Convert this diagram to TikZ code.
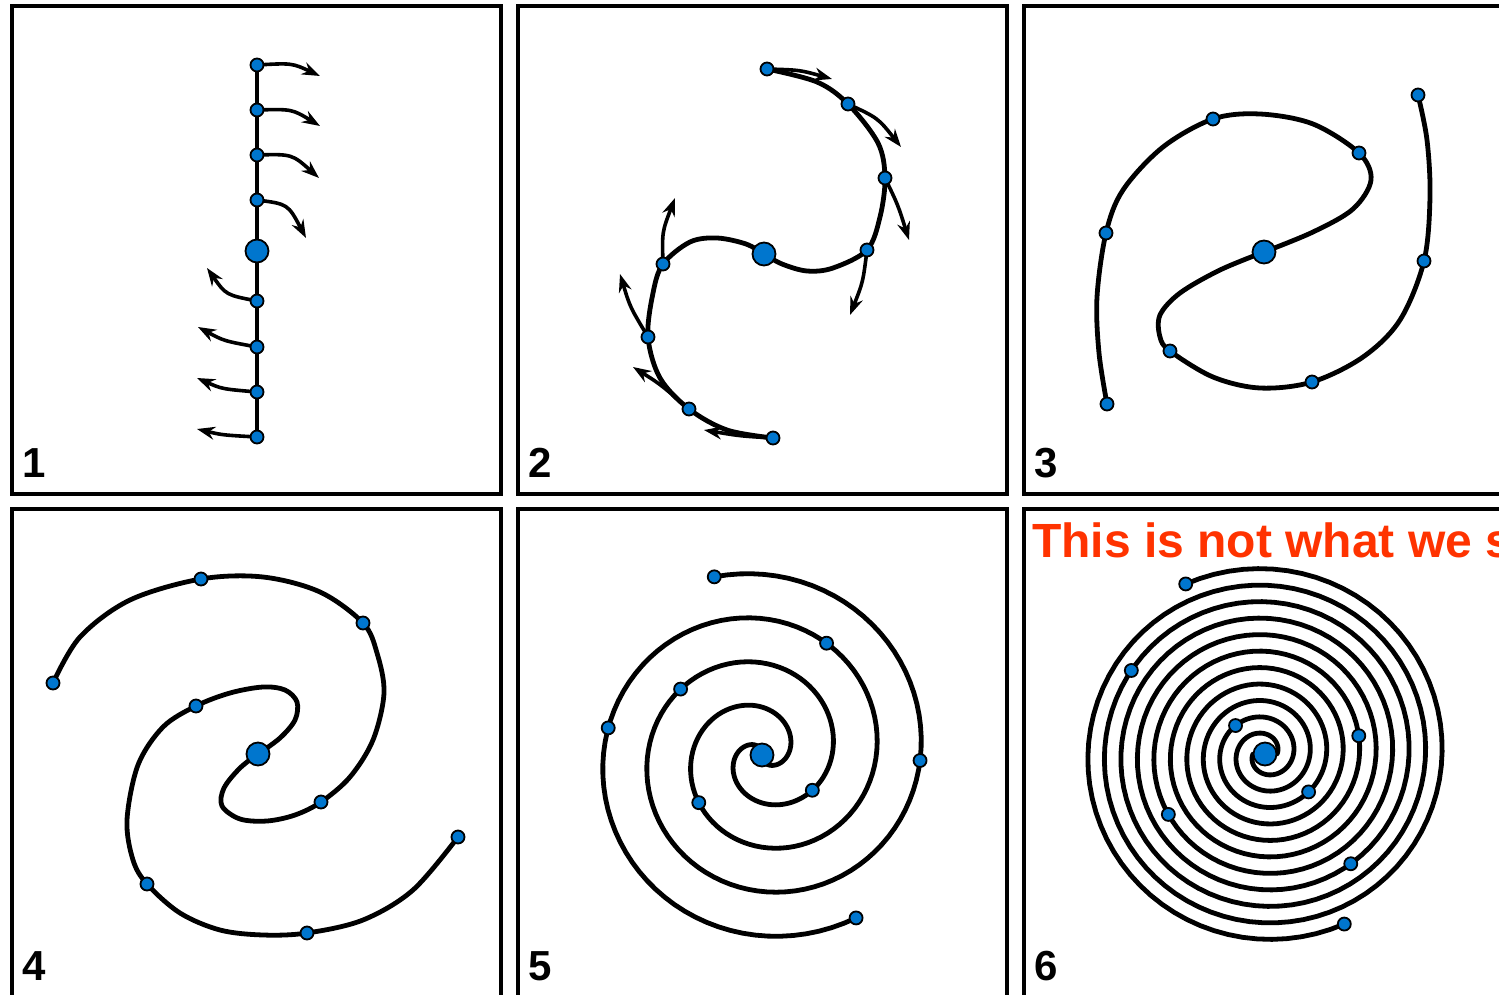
\documentclass[tikz,border=0pt]{standalone}
\usepackage{fontspec}
\newfontfamily\sansbold{Liberation Sans}[BoldFont={Liberation Sans Bold}]
\usetikzlibrary{arrows.meta}
\pgfdeclarelayer{bg}
\pgfsetlayers{bg,main}
\definecolor{dotblue}{RGB}{0,118,206}
\definecolor{warnred}{RGB}{255,51,0}
\newcommand{\spiraldot}[8]{%
  \pgfmathsetmacro{\myR}{#5+#6*#7}%
  \node[#2] (#1) at ({#3+(#8)*\myR*cos(#7)},{#4-(#8)*\myR*sin(#7)}) {};}
\tikzset{
  dot/.style={circle, draw=black, line width=1.8pt, fill=dotblue, minimum size=13pt, inner sep=0pt},
  bigdot/.style={dot, minimum size=23pt},
  curve/.style={line width=4.8pt, line cap=round, line join=round},
  arr/.style={line width=3.6pt, -{Stealth[length=18pt,width=13pt,inset=6pt]}},
  panel/.style={draw=black, line width=3.6pt},
  num/.style={anchor=base west, inner sep=0pt, font=\sansbold\bfseries\fontsize{42}{44}\selectfont},
}
\begin{document}
\begin{tikzpicture}[x=1pt,y=-1pt]
\useasboundingbox (0,0) rectangle (1499,995);
\clip (0,0) rectangle (1499,995);
% panels
\draw[panel] (12,6) rectangle (501,494);
\draw[panel] (518,6) rectangle (1007,494);
\draw[panel] (1024,6) rectangle (1520,494);
\draw[panel] (12,509) rectangle (501,1020);
\draw[panel] (518,509) rectangle (1007,1020);
\draw[panel] (1024,509) rectangle (1520,1020);
\node[num] (n1) at (22,477) {1};
\node[num] (n2) at (528,477) {2};
\node[num] (n3) at (1034,477) {3};
\node[num] (n4) at (22,980) {4};
\node[num] (n5) at (528,980) {5};
\node[num] (n6) at (1034,980) {6};
\node[anchor=base west, inner sep=0pt, text=warnred, font=\sansbold\bfseries\fontsize{48}{50}\selectfont] (msg) at (1032,557) {This is not what we s};

% ---------- panel 1 ----------
\node[dot] (a1) at (257,65) {};
\node[dot] (a2) at (257,110) {};
\node[dot] (a3) at (257,155) {};
\node[dot] (a4) at (257,200) {};
\node[bigdot] (a0) at (257,251) {};
\node[dot] (a5) at (257,301) {};
\node[dot] (a6) at (257,347) {};
\node[dot] (a7) at (257,392) {};
\node[dot] (a8) at (257,437) {};
\begin{pgfonlayer}{bg}
\draw[curve] (a1.center) -- (a8.center);
\draw[arr] (a1.center) .. controls (292,63) .. (320,76);
\draw[arr] (a2.center) .. controls (292,109) .. (320,126);
\draw[arr] (a3.center) .. controls (292,154) .. (319,178);
\draw[arr] (a4.center) .. controls (288,204) .. (306,238);
\draw[arr] (a5.center) .. controls (226,295) .. (207,268);
\draw[arr] (a6.center) .. controls (224,341) .. (198,327);
\draw[arr] (a7.center) .. controls (222,389) .. (197,378);
\draw[arr] (a8.center) .. controls (222,435) .. (197,429);
\end{pgfonlayer}

% ---------- panel 2 ----------
\node[bigdot] (b0) at (764,254) {};
\node[dot] (b1) at (867,250) {};
\node[dot] (b2) at (885,178) {};
\node[dot] (b3) at (848,104) {};
\node[dot] (b4) at (767,69) {};
\node[dot] (b5) at (663,264) {};
\node[dot] (b6) at (648,337) {};
\node[dot] (b7) at (689,409) {};
\node[dot] (b8) at (773,438) {};
\begin{pgfonlayer}{bg}
\draw[curve] plot[smooth, tension=0.55] coordinates {(b0.center) (782,264) (807,271) (833,268) (b1.center) (880,217) (b2.center) (878,143) (b3.center) (817,82) (b4.center)};
\draw[curve] plot[smooth, tension=0.55] coordinates {(b0.center) (746,244) (717,238) (690,242) (b5.center) (653,293) (b6.center) (660,378) (b7.center) (727,430) (b8.center)};
\draw[arr] (b4.center) .. controls (800,70) .. (832,79);
\draw[arr] (b3.center) .. controls (878,118) .. (901,147);
\draw[arr] (b2.center) .. controls (898,205) .. (909,240);
\draw[arr] (b1.center) .. controls (863,282) .. (850,315);
\draw[arr] (b5.center) .. controls (662,232) .. (675,198);
\draw[arr] (b6.center) .. controls (630,307) .. (620,274);
\draw[arr] (b7.center) .. controls (660,384) .. (633,367);
\draw[arr] (b8.center) .. controls (740,436) .. (704,430);
\end{pgfonlayer}

% ---------- panel 3 ----------
\node[bigdot] (c0) at (1264,252) {};
\node[dot] (c1) at (1359,153) {};
\node[dot] (c2) at (1213,119) {};
\node[dot] (c3) at (1106,233) {};
\node[dot] (c4) at (1107,404) {};
\node[dot] (c5) at (1170,351) {};
\node[dot] (c6) at (1312,382) {};
\node[dot] (c7) at (1424,261) {};
\node[dot] (c8) at (1418,95) {};
\begin{pgfonlayer}{bg}
\draw[curve] plot[smooth, tension=0.55] coordinates {(c0.center) (1313,232) (1353,209) (1371,180) (c1.center) (1313,124) (1260,114) (c2.center) (1163,147) (1123,190) (c3.center) (1097,297) (1099,353) (c4.center)};
\draw[curve] plot[smooth, tension=0.55] coordinates {(c0.center) (1220,270) (1180,293) (1160,315) (1160,337) (c5.center) (1213,377) (1260,388) (c6.center) (1363,357) (1400,320) (c7.center) (1430,197) (1427,140) (c8.center)};
\end{pgfonlayer}

% ---------- panel 4 ----------
\node[bigdot] (e0) at (258,754) {};
\node[dot] (e1) at (196,706) {};
\node[dot] (e2) at (147,884) {};
\node[dot] (e3) at (307,933) {};
\node[dot] (e4) at (458,837) {};
\node[dot] (e5) at (321,802) {};
\node[dot] (e6) at (363,623) {};
\node[dot] (e7) at (201,579) {};
\node[dot] (e8) at (53,683) {};
\begin{pgfonlayer}{bg}
\draw[curve] plot[smooth, tension=0.55] coordinates {(e0.center) (280,738) (295,720) (297,702) (285,690) (263,687) (230,693) (e1.center) (163,727) (138,765) (127,820) (133,860) (e2.center) (180,913) (220,930) (263,935) (e3.center) (363,920) (413,890) (e4.center)};
\draw[curve] plot[smooth, tension=0.55] coordinates {(e0.center) (240,768) (224,788) (222,806) (240,819) (267,821) (295,815) (e5.center) (350,777) (373,740) (384,693) (377,653) (e6.center) (320,592) (263,577) (e7.center) (130,600) (80,637) (e8.center)};
\end{pgfonlayer}

% ---------- panel 5 ----------
\node[bigdot] (f0) at (762,755) {};
\spiraldot{f1}{dot}{762}{755}{-18.5}{0.246}{325}{1}
\spiraldot{f2}{dot}{762}{755}{-18.5}{0.246}{501}{1}
\spiraldot{f3}{dot}{762}{755}{-18.5}{0.246}{718}{1}
\spiraldot{f4}{dot}{762}{755}{-18.5}{0.246}{825}{1}
\spiraldot{f5}{dot}{762}{755}{-18.5}{0.246}{397}{-1}
\spiraldot{f6}{dot}{762}{755}{-18.5}{0.246}{600}{-1}
\spiraldot{f7}{dot}{762}{755}{-18.5}{0.246}{710}{-1}
\spiraldot{f8}{dot}{762}{755}{-18.5}{0.246}{840}{-1}
\begin{pgfonlayer}{bg}
\draw[curve] plot[domain=120:825, samples=180, variable=\t] ({762+(0.246*\t-18.5)*cos(\t)},{755-(0.246*\t-18.5)*sin(\t)});
\draw[curve] plot[domain=120:840, samples=180, variable=\t] ({762-(0.246*\t-18.5)*cos(\t)},{755+(0.246*\t-18.5)*sin(\t)});
\end{pgfonlayer}

% ---------- panel 6 ----------
\node[bigdot] (g0) at (1265,754) {};
\spiraldot{g1}{dot}{1265}{754}{12}{0.0917}{1915}{1}
\spiraldot{g2}{dot}{1265}{754}{12}{0.0917}{1915}{-1}
\spiraldot{g3}{dot}{1265}{754}{12}{0.0917}{316}{-1}
\spiraldot{g4}{dot}{1265}{754}{12}{0.0917}{499}{-1}
\spiraldot{g5}{dot}{1265}{754}{12}{0.0917}{911}{-1}
\spiraldot{g6}{dot}{1265}{754}{12}{0.0917}{1112}{-1}
\spiraldot{g7}{dot}{1265}{754}{12}{0.0917}{1588}{1}
\spiraldot{g8}{dot}{1265}{754}{12}{0.0917}{1388}{1}
\begin{pgfonlayer}{bg}
\draw[curve] plot[domain=0:1915, samples=420, variable=\t] ({1265+(12+0.0917*\t)*cos(\t)},{754-(12+0.0917*\t)*sin(\t)});
\draw[curve] plot[domain=0:1915, samples=420, variable=\t] ({1265-(12+0.0917*\t)*cos(\t)},{754+(12+0.0917*\t)*sin(\t)});
\end{pgfonlayer}
\end{tikzpicture}
\end{document}
